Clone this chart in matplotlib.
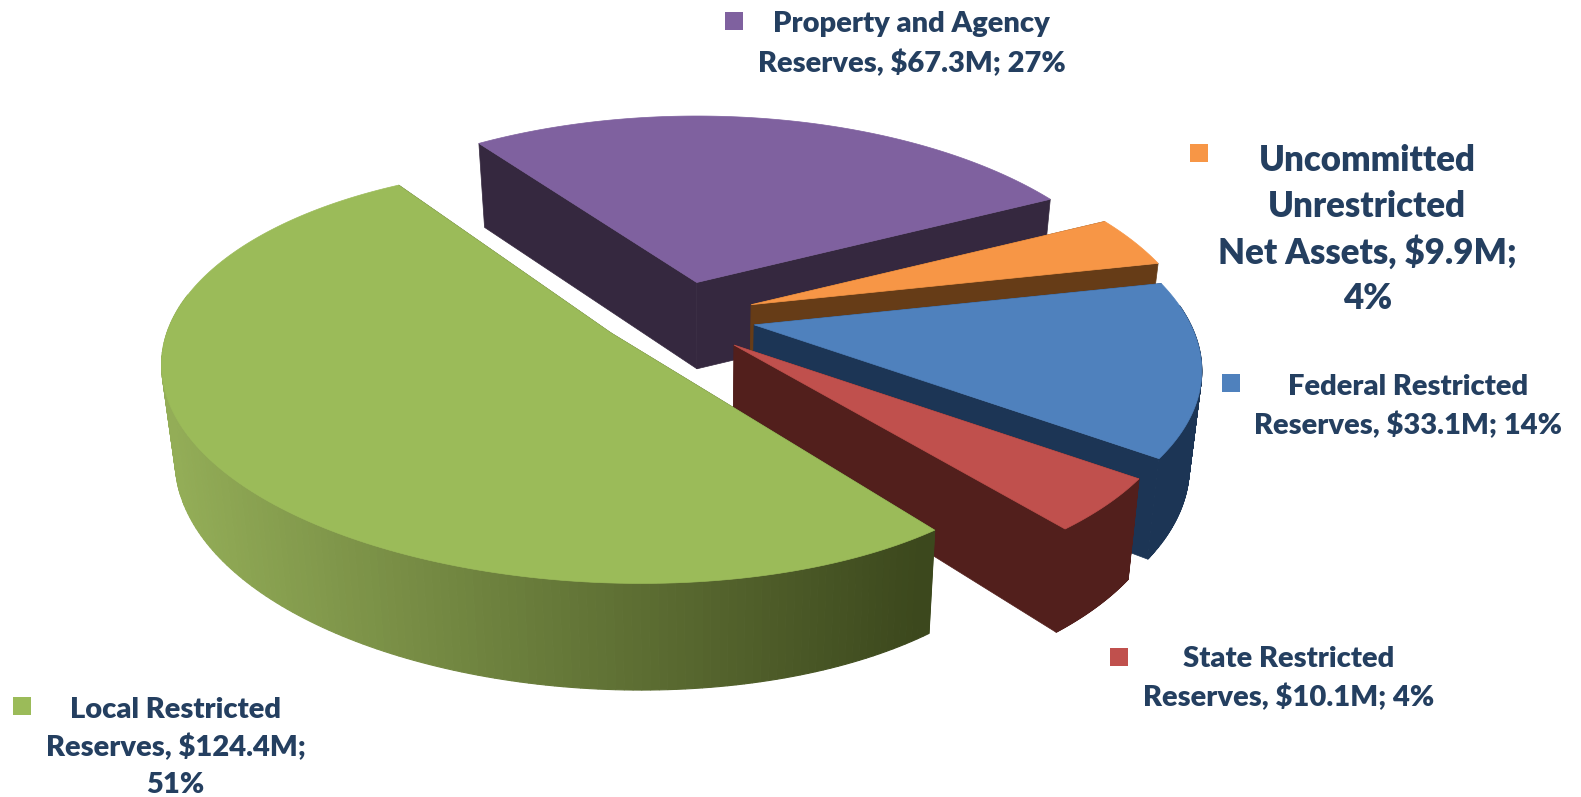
import numpy as np
import matplotlib
matplotlib.use("Agg")
import matplotlib.pyplot as plt

names = ["Property and Agency\nReserves, $67.3M; 27%",
         "Uncommitted\nUnrestricted\nNet Assets, $9.9M;\n4%",
         "Federal Restricted\nReserves, $33.1M; 14%",
         "State Restricted\nReserves, $10.1M; 4%",
         "Local Restricted\nReserves, $124.4M;\n51%"]
values = [67.3, 9.9, 33.1, 10.1, 124.4]
top_colors = ["#7f619f", "#f79646", "#4f81bd", "#c0504d", "#9bbb59"]
wall_colors = ["#35283f", "#663c17", "#1c3555", "#521f1c", "#3f4c20"]

# where each exploded slice has its point, picture pixels
apex = [(691, 280), (745, 302), (748, 322), (728, 342), (606, 330)]
# small turn of a slice on screen, the big one sits a bit askew
turn = [0, 0, 0, 0, 0.04]
# centre x, y of first line, line step, font size
label_pos = [(904, 21, 39, 21), (1356, 156, 45.5, 25), (1396, 381, 38, 21), (1278, 651, 38, 21), (174, 701, 37.5, 21)]
key_pos = [(728, 21), (1189, 152), (1221, 380), (1110, 651), (22, 700)]

R = 433
RY = 198
KX = 0.22
KY = 0.2
KH = 0.13
H = 92
VANISH_X = 700
START = 126.0


def project(i, t):
    t = np.radians(t)
    dx = R * np.cos(t) / (1 + KX * np.sin(t))
    dy = -RY * np.sin(t) / (1 + KY * np.sin(t))
    x = apex[i][0] + dx - turn[i] * dy
    y = apex[i][1] + dy + turn[i] * dx
    return x, y, 1 / (1 + KH * np.sin(t))


def drop(x, y, s):
    return x - 0.025 * (x - VANISH_X), y + H * s


fig = plt.figure(figsize=(15.81, 7.97), dpi=100)
ax = fig.add_axes([0, 0, 1, 1])
ax.set_xlim(0, 1568)
ax.set_ylim(790, 0)
ax.axis("off")

green_left = np.array(matplotlib.colors.to_rgb("#93ad57"))
green_right = np.array(matplotlib.colors.to_rgb("#3c481d"))

a0 = START
total = sum(values)
for i, v in enumerate(values):
    a1 = a0 - v / total * 360
    t = np.linspace(a0, a1, 200)
    x, y, s = project(i, t)
    bx, by = drop(x, y, s)
    px, py = apex[i]
    pbx, pby = drop(px, py, 0.93)
    z = i * 10

    # the two flat walls
    ax.fill([px, x[0], bx[0], pbx], [py, y[0], by[0], pby], color=wall_colors[i], lw=0.5, zorder=z)
    ax.fill([px, x[-1], bx[-1], pbx], [py, y[-1], by[-1], pby], color=wall_colors[i], lw=0.5, zorder=z + 1)

    # outer rim, only the part that faces us
    for j in range(len(t) - 1):
        if np.sin(np.radians(t[j])) > 0.1:
            continue
        if i == 4:
            f = np.clip((x[j] - 170) / (915 - 170), 0, 1)
            c = green_left * (1 - f) + green_right * f
        else:
            c = wall_colors[i]
        ax.fill([x[j], x[j + 1], bx[j + 1], bx[j]], [y[j], y[j + 1], by[j + 1], by[j]],
                color=c, lw=0.8, zorder=z + 2)

    ax.fill(np.r_[px, x], np.r_[py, y], color=top_colors[i], lw=0.5, zorder=z + 3)
    a0 = a1

for i, n in enumerate(names):
    lx, ly, step, fs = label_pos[i]
    for k, line in enumerate(n.split("\n")):
        ax.text(lx, ly + k * step, line, ha="center", va="center_baseline", fontsize=fs, fontweight="heavy",
                family="Lato", color="#243f60", zorder=100)
    kx, ky = key_pos[i]
    ax.fill([kx - 9, kx + 9, kx + 9, kx - 9], [ky - 9, ky - 9, ky + 9, ky + 9],
            color=top_colors[i], lw=0, zorder=100)

fig.savefig("out.png", dpi=100)
